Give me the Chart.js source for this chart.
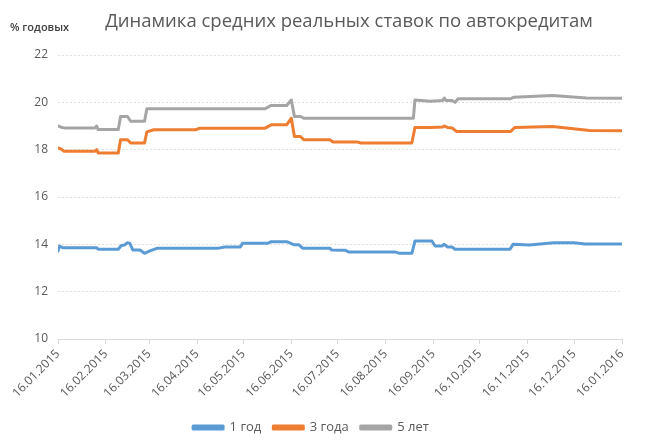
<!DOCTYPE html>
<html>
<head>
<meta charset="utf-8">
<script src="https://cdn.jsdelivr.net/npm/chart.js@4/dist/chart.umd.min.js"></script>
<style>
  body { margin: 0; background: #fff; }
</style>
</head>
<body>
<canvas id="ratesChart" width="650" height="448"></canvas>
<script>
// days counted from 16.01.2015
const tickDays = [0, 31, 59, 90, 120, 151, 181, 212, 243, 273, 304, 334, 365];
const tickLabels = ['16.01.2015', '16.02.2015', '16.03.2015', '16.04.2015', '16.05.2015', '16.06.2015',
    '16.07.2015', '16.08.2015', '16.09.2015', '16.10.2015', '16.11.2015', '16.12.2015', '16.01.2016'];

const seriesNames = ['1 год', '3 года', '5 лет'];
const seriesColors = ['#5b9bd5', '#ed7d31', '#a5a5a5'];

const days1 = [0, 1, 3, 25, 26, 39, 41, 43, 45, 46.5, 48.5, 53, 56, 59.5, 64, 103, 108, 118, 119.5, 136, 138, 148, 153,
    156, 158.5, 176, 177, 186, 188, 218, 221, 229, 231, 242, 244, 248.5, 250, 252, 255, 257, 292.5, 294.5, 305, 321, 334, 341, 365];
const rates1 = [13.72, 13.93, 13.86, 13.86, 13.79, 13.79, 13.95, 13.97, 14.07, 14.04, 13.76, 13.76, 13.62, 13.72, 13.83, 13.83,
    13.89, 13.89, 14.05, 14.05, 14.11, 14.11, 13.98, 13.98, 13.83, 13.83, 13.76, 13.75, 13.68, 13.68, 13.62, 13.62, 14.14,
    14.14, 13.93, 13.93, 14.0, 13.89, 13.89, 13.79, 13.79, 14.0, 13.97, 14.07, 14.07, 14.01, 14.01];

const days3 = [0, 2, 4, 24, 25, 26, 39, 40.5, 45, 47, 56, 57.5, 62, 89, 92, 134, 138, 148, 151, 153, 157, 159, 176, 178,
    194, 196, 229, 231, 241, 249, 250, 252, 255, 258, 293, 295.5, 320, 344, 365];
const rates3 = [18.07, 18.03, 17.93, 17.93, 18.0, 17.86, 17.86, 18.42, 18.42, 18.28, 18.28, 18.75, 18.84, 18.84, 18.91,
    18.91, 19.05, 19.05, 19.33, 18.56, 18.56, 18.42, 18.42, 18.32, 18.32, 18.28, 18.28, 18.94, 18.94, 18.96, 19.0, 18.94,
    18.92, 18.77, 18.77, 18.94, 18.98, 18.81, 18.8];

const days5 = [0, 2, 4, 24, 25, 26, 39, 40.5, 45, 47, 56, 57.5, 134, 138, 148, 151, 153, 157, 159, 230, 231, 241, 249,
    250, 251, 255, 257, 259, 293, 295, 320, 342, 365];
const rates5 = [19.0, 18.95, 18.92, 18.92, 19.0, 18.85, 18.85, 19.4, 19.4, 19.2, 19.2, 19.73, 19.73, 19.87, 19.87, 20.1,
    19.4, 19.4, 19.33, 19.33, 20.1, 20.05, 20.08, 20.18, 20.08, 20.08, 20.0, 20.15, 20.15, 20.22, 20.29, 20.18, 20.17];

const yTicks = [10, 12, 14, 16, 18, 20, 22];

const chartTitle = 'Динамика средних реальных ставок по автокредитам';
const unitLabel = '% годовых';

function toPoints(days, rates) {
    return days.map((d, i) => ({ x: d, y: rates[i] }));
}

const allDays = [days1, days3, days5];
const allRates = [rates1, rates3, rates5];

const headerText = {
    id: 'headerText',
    afterDraw(chart) {
        const ctx = chart.ctx;
        ctx.save();
        ctx.fillStyle = '#595959';
        ctx.font = '18.5px "Open Sans"';
        ctx.textAlign = 'center';
        ctx.textBaseline = 'middle';
        ctx.fillText(chartTitle, 349, 22);
        ctx.fillStyle = '#404040';
        ctx.font = '600 11px "Open Sans"';
        ctx.textAlign = 'left';
        ctx.fillText(unitLabel, 10, 28);
        ctx.restore();
    }
};

document.addEventListener('DOMContentLoaded', function() {
    let ratesChart = document.getElementById('ratesChart');

    new Chart(ratesChart, {
        type: 'line',
        data: {
            datasets: seriesNames.map((name, i) => ({
                label: name,
                data: toPoints(allDays[i], allRates[i]),
                borderColor: seriesColors[i],
                backgroundColor: seriesColors[i],
                borderWidth: 3,
                pointRadius: 0,
                tension: 0,
                borderJoinStyle: 'round',
                borderCapStyle: 'round'
            }))
        },
        options: {
            responsive: false,
            animation: false,
            layout: { padding: { top: 55, right: 28, left: 0, bottom: 4 } },
            scales: {
                x: {
                    type: 'linear',
                    min: 0,
                    max: 365,
                    afterBuildTicks: scale => {
                        scale.ticks = tickDays.map(v => ({ value: v }));
                    },
                    afterFit: scale => { scale.height = 70; },
                    ticks: {
                        minRotation: 45,
                        maxRotation: 45,
                        autoSkip: false,
                        color: '#595959',
                        font: { family: '"Open Sans"', size: 12 },
                        callback: (v) => tickLabels[tickDays.indexOf(v)]
                    },
                    grid: { drawOnChartArea: false, drawTicks: true, tickLength: 5, color: '#d9d9d9' },
                    border: { display: true, color: '#d9d9d9' }
                },
                y: {
                    min: 10,
                    max: 22,
                    afterBuildTicks: scale => {
                        scale.ticks = yTicks.map(v => ({ value: v }));
                    },
                    afterFit: scale => { scale.width = 58; },
                    ticks: {
                        color: '#595959',
                        padding: 10,
                        font: { family: '"Open Sans"', size: 12 }
                    },
                    grid: { color: '#e0e0e0', drawTicks: false },
                    border: { display: false, dash: [2, 2] }
                }
            },
            plugins: {
                legend: {
                    position: 'bottom',
                    labels: {
                        boxWidth: 30,
                        boxHeight: 3,
                        padding: 12,
                        color: '#595959',
                        font: { family: '"Open Sans"', size: 13 }
                    }
                },
                tooltip: { enabled: false }
            }
        },
        plugins: [headerText]
    });
});
</script>
</body>
</html>
